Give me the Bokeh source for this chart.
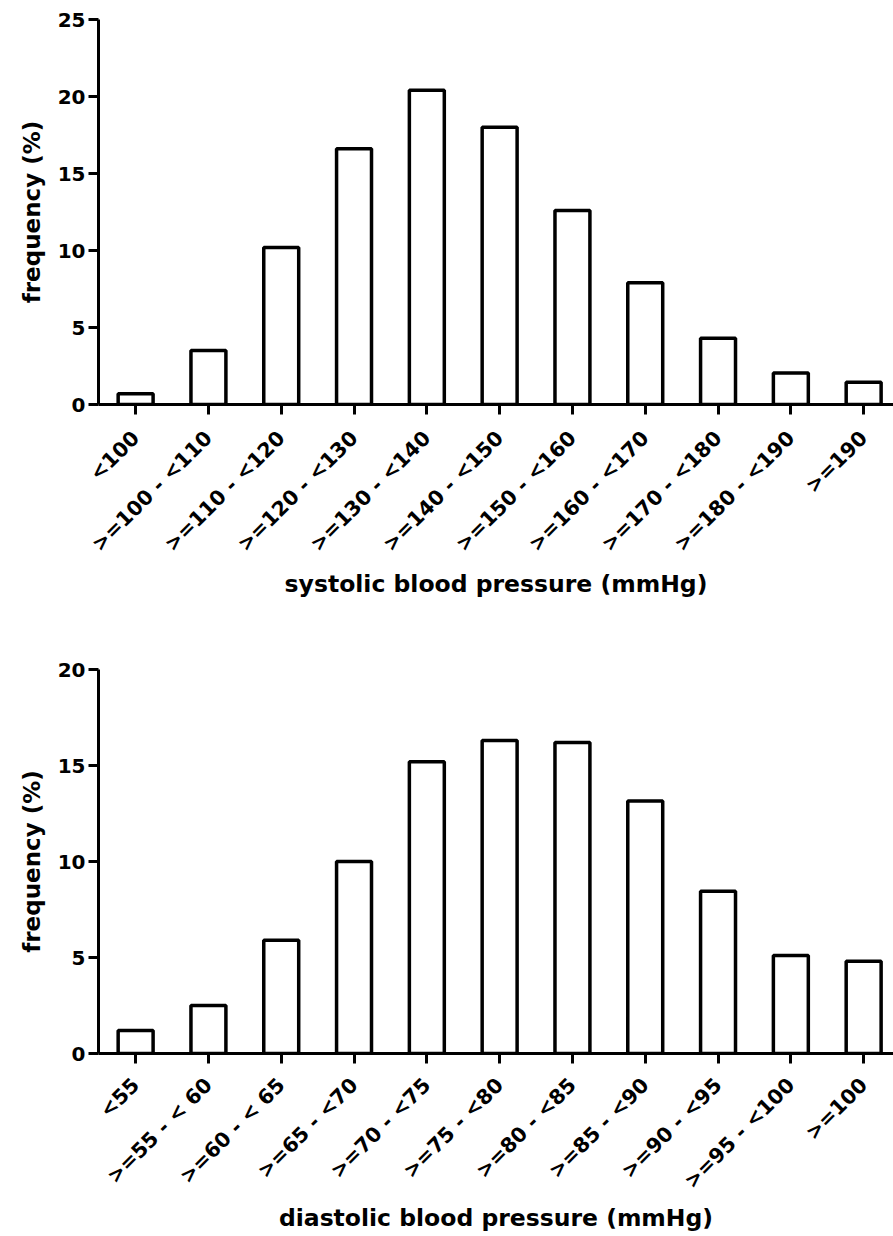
import math
from bokeh.plotting import figure
from bokeh.layouts import column
from bokeh.models import Range1d, FixedTicker
from bokeh.embed import file_html
from bokeh.resources import INLINE

# ---- data ----
sys_categories = ["<100", ">=100 - <110", ">=110 - <120", ">=120 - <130", ">=130 - <140",
                  ">=140 - <150", ">=150 - <160", ">=160 - <170", ">=170 - <180",
                  ">=180 - <190", ">=190"]
sys_freq = [0.7, 3.5, 10.2, 16.6, 20.4, 18.0, 12.6, 7.9, 4.3, 2.05, 1.45]
sys_yticks = [0, 5, 10, 15, 20, 25]
sys_xlabel = "systolic blood pressure (mmHg)"

dia_categories = ["<55", ">=55 - < 60", ">=60 - < 65", ">=65 - <70", ">=70 - <75",
                  ">=75 - <80", ">=80 - <85", ">=85 - <90", ">=90 - <95",
                  ">=95 - <100", ">=100"]
dia_freq = [1.2, 2.5, 5.9, 10.0, 15.2, 16.3, 16.2, 13.15, 8.45, 5.1, 4.8]
dia_yticks = [0, 5, 10, 15, 20]
dia_xlabel = "diastolic blood pressure (mmHg)"

ylabel = "frequency (%)"
FONT = "DejaVu Sans"


def make_panel(categories, values, yticks, xlabel, height, border_top, border_bottom,
               label_standoff, title_standoff):
    n = len(categories)
    xs = list(range(n))
    p = figure(width=893, height=height, output_backend="svg", toolbar_location=None,
               x_range=Range1d(-0.51, n - 0.59), y_range=Range1d(yticks[0], yticks[-1]),
               min_border_left=98, min_border_right=0,
               min_border_top=border_top, min_border_bottom=border_bottom)
    p.vbar(x=xs, top=values, bottom=0, width=0.48, fill_color="white",
           line_color="black", line_width=3.5)
    p.grid.visible = False
    p.outline_line_color = None
    p.background_fill_color = "white"
    p.border_fill_color = "white"

    for ax in (p.xaxis[0], p.yaxis[0]):
        ax.axis_line_width = 3
        ax.axis_line_color = "black"
        ax.major_tick_line_width = 3
        ax.major_tick_line_color = "black"
        ax.major_tick_out = 10
        ax.major_tick_in = 0
        ax.minor_tick_line_color = None
        ax.major_label_text_font = FONT
        ax.major_label_text_font_style = "bold"
        ax.major_label_text_color = "black"
        ax.axis_label_text_font = FONT
        ax.axis_label_text_font_style = "bold"
        ax.axis_label_text_color = "black"

    xa = p.xaxis[0]
    xa.ticker = FixedTicker(ticks=xs)
    xa.major_label_overrides = {i: c for i, c in enumerate(categories)}
    xa.major_label_orientation = math.pi / 4
    xa.major_label_text_font_size = "20.5px"
    xa.major_label_standoff = label_standoff
    xa.axis_label = xlabel
    xa.axis_label_text_font_size = "23.5px"
    xa.axis_label_standoff = title_standoff

    ya = p.yaxis[0]
    ya.ticker = FixedTicker(ticks=yticks)
    ya.major_label_text_font_size = "20px"
    ya.major_label_standoff = 3
    ya.axis_label = ylabel
    ya.axis_label_text_font_size = "23px"
    ya.axis_label_standoff = 10
    return p


p1 = make_panel(sys_categories, sys_freq, sys_yticks, sys_xlabel, 650, 19, 246, 20, 2)
p2 = make_panel(dia_categories, dia_freq, dia_yticks, dia_xlabel, 586, 19, 183, 18, 0)
layout = column(p1, p2, spacing=0)

open("out.html", "w").write(file_html(layout, INLINE))
